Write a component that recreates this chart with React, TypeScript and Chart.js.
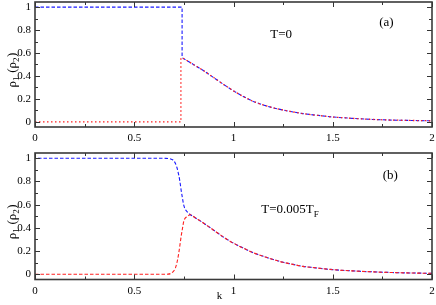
import React, { useEffect, useRef } from "react";
import { Chart, registerables } from "chart.js";

Chart.register(...registerables);

const FONT = '"Liberation Serif", "Times New Roman", serif';

// ---- Panel (a): T = 0 ----
const kBlueA = [0, 0.741, 0.741, 0.8, 0.85, 0.9, 0.95, 1.0, 1.05, 1.1, 1.15, 1.2, 1.25, 1.3, 1.35, 1.4, 1.5, 1.6, 1.7, 1.8, 1.9, 2.0];
const rhoBlueA = [1, 1, 0.56, 0.498, 0.446, 0.386, 0.326, 0.27, 0.22, 0.177, 0.147, 0.122, 0.103, 0.086, 0.072, 0.061, 0.042, 0.03, 0.021, 0.015, 0.012, 0.009];
const kRedA = [0, 0.735, 0.735, 0.741, 0.8, 0.85, 0.9, 0.95, 1.0, 1.05, 1.1, 1.15, 1.2, 1.25, 1.3, 1.35, 1.4, 1.5, 1.6, 1.7, 1.8, 1.9, 2.0];
const rhoRedA = [0, 0, 0.555, 0.56, 0.498, 0.446, 0.386, 0.326, 0.27, 0.22, 0.177, 0.147, 0.122, 0.103, 0.086, 0.072, 0.061, 0.042, 0.03, 0.021, 0.015, 0.012, 0.009];

// ---- Panel (b): T = 0.005 T_F ----
const kBlueB = [0, 0.6, 0.66, 0.68, 0.695, 0.707, 0.715, 0.724, 0.73, 0.736, 0.743, 0.749, 0.757, 0.766, 0.775, 0.783, 0.8, 0.85, 0.9, 0.95, 1.0, 1.05, 1.1, 1.15, 1.2, 1.25, 1.3, 1.35, 1.4, 1.5, 1.6, 1.7, 1.8, 1.9, 2.0];
const rhoBlueB = [1, 1, 0.999, 0.995, 0.985, 0.957, 0.92, 0.856, 0.8, 0.727, 0.655, 0.597, 0.56, 0.54, 0.524, 0.513, 0.495, 0.44, 0.38, 0.32, 0.268, 0.225, 0.185, 0.155, 0.127, 0.103, 0.085, 0.068, 0.058, 0.04, 0.029, 0.021, 0.015, 0.011, 0.008];
const kRedB = [0, 0.6, 0.67, 0.685, 0.697, 0.707, 0.715, 0.724, 0.73, 0.736, 0.743, 0.749, 0.757, 0.766, 0.775, 0.783, 0.8, 0.85, 0.9, 0.95, 1.0, 1.05, 1.1, 1.15, 1.2, 1.25, 1.3, 1.35, 1.4, 1.5, 1.6, 1.7, 1.8, 1.9, 2.0];
const rhoRedB = [0, 0, 0.001, 0.008, 0.025, 0.052, 0.1, 0.18, 0.25, 0.324, 0.395, 0.453, 0.485, 0.497, 0.508, 0.513, 0.495, 0.44, 0.38, 0.32, 0.268, 0.225, 0.185, 0.155, 0.127, 0.103, 0.085, 0.068, 0.058, 0.04, 0.029, 0.021, 0.015, 0.011, 0.008];

// ---- Axes ----
const xMajor = [0, 0.5, 1, 1.5, 2];
const xMinor = [0.25, 0.75, 1.25, 1.75];
const yMajor = [0, 0.2, 0.4, 0.6, 0.8, 1];
const yMinor = [0.1, 0.3, 0.5, 0.7, 0.9];
const xLabels = ["0", "0.5", "1", "1.5", "2"];
const yLabels = ["0", "0.2", "0.4", "0.6", "0.8", "1"];

const zip = (xs: number[], ys: number[]) => xs.map((x, i) => ({ x, y: ys[i] }));

const frameTicks = {
  id: "frameTicks",
  afterDraw(chart: any) {
    const { ctx, chartArea: a, scales } = chart;
    const x = scales.x, y = scales.y;
    ctx.save();
    ctx.strokeStyle = "#333";
    ctx.lineWidth = 1;
    ctx.beginPath();
    const xt = (v: number, len: number) => {
      const p = Math.round(x.getPixelForValue(v)) + 0.5;
      ctx.moveTo(p, a.bottom); ctx.lineTo(p, a.bottom - len);
      ctx.moveTo(p, a.top); ctx.lineTo(p, a.top + len);
    };
    const yt = (v: number, len: number) => {
      const p = Math.round(y.getPixelForValue(v)) + 0.5;
      ctx.moveTo(a.left, p); ctx.lineTo(a.left + len, p);
      ctx.moveTo(a.right, p); ctx.lineTo(a.right - len, p);
    };
    xMajor.forEach((v) => xt(v, 5));
    xMinor.forEach((v) => xt(v, 3));
    yMajor.forEach((v) => yt(v, 5));
    yMinor.forEach((v) => yt(v, 3));
    ctx.stroke();
    ctx.lineWidth = 1.6;
    ctx.strokeStyle = "#3a3a3a";
    ctx.strokeRect(a.left, a.top, a.right - a.left, a.bottom - a.top);
    ctx.restore();
  },
};

type Part = { t: string; sub?: boolean };

function drawParts(ctx: CanvasRenderingContext2D, parts: Part[], x: number, y: number, size: number, align: "left" | "center") {
  const subSize = Math.round(size * 0.7);
  const widths = parts.map((p) => {
    ctx.font = `${p.sub ? subSize : size}px ${FONT}`;
    return ctx.measureText(p.t).width;
  });
  const total = widths.reduce((s, w) => s + w, 0);
  let cx = align === "center" ? x - total / 2 : x;
  ctx.textBaseline = "alphabetic";
  ctx.textAlign = "left";
  parts.forEach((p, i) => {
    ctx.font = `${p.sub ? subSize : size}px ${FONT}`;
    ctx.fillText(p.t, cx, y + size * 0.35 + (p.sub ? size * 0.28 : 0));
    cx += widths[i] + (p.sub ? 0.5 : 0);
  });
}

const annotations = {
  id: "annot",
  afterDraw(chart: any, _args: any, opts: any) {
    const { ctx, chartArea: a, scales } = chart;
    ctx.save();
    ctx.fillStyle = "#000";
    (opts.items || []).forEach((it: any) => {
      const px = scales.x.getPixelForValue(it.x);
      const py = scales.y.getPixelForValue(it.y);
      drawParts(ctx, it.parts, px, py, it.size || 13, it.align || "center");
    });
    // y-axis title: rho_1 (rho_2)
    const cy = (a.top + a.bottom) / 2 + 6;
    ctx.translate(12.5, cy);
    ctx.rotate(-Math.PI / 2);
    drawParts(ctx, [{ t: "ρ" }, { t: "1", sub: true }, { t: " (ρ" }, { t: "2", sub: true }, { t: ")" }], 0, -1.5, 13, "center");
    ctx.restore();
    if (opts.xTitle) {
      ctx.save();
      ctx.fillStyle = "#000";
      ctx.font = `11px ${FONT}`;
      ctx.textAlign = "center";
      ctx.textBaseline = "middle";
      ctx.fillText(opts.xTitle, scales.x.getPixelForValue(0.93), a.bottom + 17);
      ctx.restore();
    }
  },
};

function makeChart(canvas: HTMLCanvasElement, datasets: any[], padTop: number, xHeight: number, items: any[], xTitle?: string) {
  return new Chart(canvas, {
    type: "line",
    data: { datasets },
    plugins: [frameTicks, annotations],
    options: {
      animation: false,
      responsive: false,
      events: [],
      layout: { padding: { top: padTop, right: 4, left: 0, bottom: 0 } },
      plugins: {
        legend: { display: false },
        tooltip: { enabled: false },
        annot: { items, xTitle },
      } as any,
      elements: { point: { radius: 0 } },
      scales: {
        x: {
          type: "linear",
          min: 0,
          max: 2,
          grid: { display: false, drawTicks: false },
          border: { display: false },
          afterBuildTicks: (s: any) => { s.ticks = xMajor.map((v) => ({ value: v })); },
          afterFit: (s: any) => { s.height = xHeight; s.paddingLeft = 0; s.paddingRight = 0; },
          ticks: {
            padding: 5,
            color: "#000",
            font: { family: FONT, size: 11 },
            maxRotation: 0,
            callback: (v: any) => xLabels[xMajor.indexOf(Number(v))] ?? "",
          },
        },
        y: {
          type: "linear",
          min: -0.045,
          max: 1.045,
          grid: { display: false, drawTicks: false },
          border: { display: false },
          afterBuildTicks: (s: any) => { s.ticks = yMajor.map((v) => ({ value: v })); },
          afterFit: (s: any) => { s.width = 35; s.paddingTop = 0; s.paddingBottom = 0; },
          ticks: {
            padding: 4,
            color: "#000",
            font: { family: FONT, size: 11 },
            callback: (v: any) => yLabels[yMajor.indexOf(Number(v))] ?? "",
          },
        },
      },
    },
  } as any);
}

export default function App() {
  const refA = useRef<HTMLCanvasElement>(null);
  const refB = useRef<HTMLCanvasElement>(null);
  useEffect(() => {
    document.body.style.margin = "0";
    const blue = "#1a1aff";
    const red = "#ff2020";
    const chA = makeChart(
      refA.current!,
      [
        { data: zip(kRedA, rhoRedA), borderColor: red, borderWidth: 1.3, borderDash: [1.5, 2.5], tension: 0 },
        { data: zip(kBlueA, rhoBlueA), borderColor: blue, borderWidth: 1.1, borderDash: [3.5, 2], tension: 0 },
      ],
      2,
      23,
      [
        { parts: [{ t: "(a)" }], x: 1.77, y: 0.874 },
        { parts: [{ t: "T=0" }], x: 1.24, y: 0.774 },
      ]
    );
    const chB = makeChart(
      refB.current!,
      [
        { data: zip(kRedB, rhoRedB), borderColor: red, borderWidth: 1.1, borderDash: [3.5, 2], cubicInterpolationMode: "monotone" },
        { data: zip(kBlueB, rhoBlueB), borderColor: blue, borderWidth: 1.1, borderDash: [3.5, 2], borderDashOffset: 2.5, cubicInterpolationMode: "monotone" },
      ],
      3,
      25.5,
      [
        { parts: [{ t: "(b)" }], x: 1.79, y: 0.86 },
        { parts: [{ t: "T=0.005T" }, { t: "F", sub: true }], x: 1.14, y: 0.565, align: "left" },
      ],
      "k"
    );
    return () => { chA.destroy(); chB.destroy(); };
  }, []);
  return (
    <div style={{ position: "absolute", left: 0, top: 0, width: 436, height: 305, background: "#fff" }}>
      <canvas ref={refA} width={436} height={150} style={{ display: "block" }} />
      <canvas ref={refB} width={436} height={155} style={{ display: "block" }} />
    </div>
  );
}
